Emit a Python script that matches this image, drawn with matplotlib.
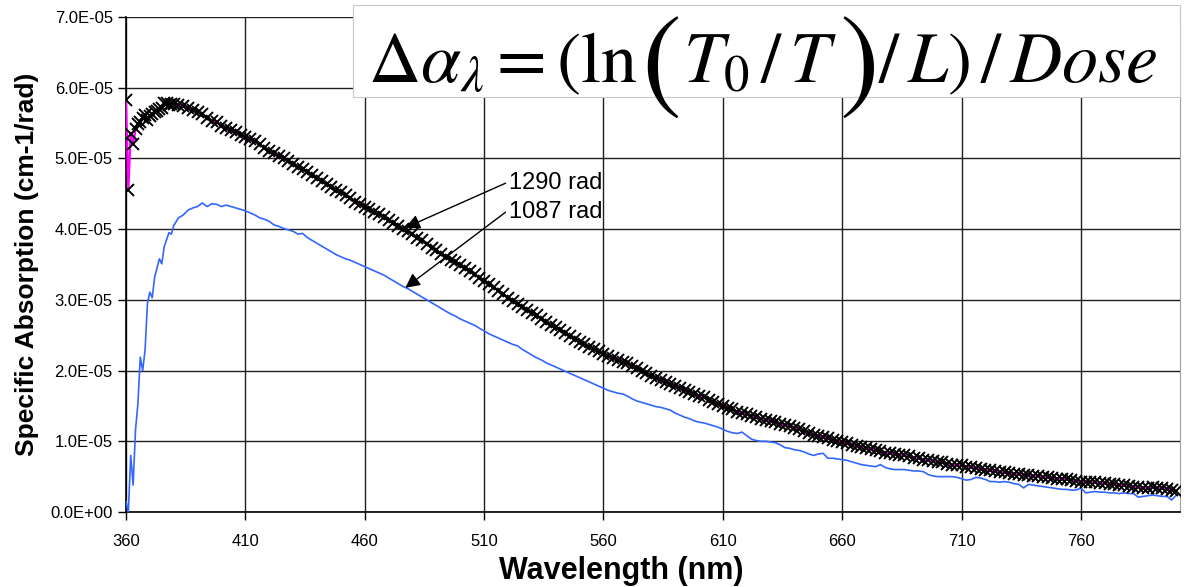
import matplotlib
matplotlib.use("Agg")
import matplotlib.pyplot as plt
import numpy as np
from matplotlib.patches import Rectangle
from matplotlib.ticker import FuncFormatter

# wavelength grid of the readings: 1 nm steps to 379 nm, then 2 nm steps
wavelength = np.concatenate([np.arange(360, 380, 1), np.arange(380, 802, 2)])

# specific absorption, units of 1e-5 cm-1/rad
abs_1290 = [
    5.82, 4.56, 5.35, 5.20, 5.41, 5.48, 5.51, 5.57, 5.62, 5.55,
    5.60, 5.63, 5.65, 5.67, 5.70, 5.72, 5.78, 5.79, 5.76, 5.77,
    5.77, 5.76, 5.74, 5.71, 5.68, 5.66, 5.63, 5.57, 5.53, 5.51,
    5.46, 5.43, 5.40, 5.37, 5.33, 5.30, 5.27, 5.25, 5.20, 5.15,
    5.11, 5.07, 5.03, 5.00, 4.97, 4.92, 4.88, 4.85, 4.81, 4.77,
    4.72, 4.68, 4.64, 4.60, 4.56, 4.52, 4.48, 4.44, 4.39, 4.35,
    4.31, 4.28, 4.24, 4.21, 4.17, 4.13, 4.09, 4.05, 4.00, 3.97,
    3.93, 3.88, 3.84, 3.79, 3.74, 3.70, 3.65, 3.61, 3.57, 3.53,
    3.49, 3.45, 3.41, 3.36, 3.31, 3.27, 3.22, 3.18, 3.13, 3.08,
    3.03, 2.98, 2.94, 2.90, 2.86, 2.82, 2.78, 2.73, 2.69, 2.64,
    2.61, 2.57, 2.53, 2.49, 2.45, 2.41, 2.37, 2.34, 2.30, 2.27,
    2.24, 2.21, 2.18, 2.15, 2.12, 2.10, 2.07, 2.03, 2.00, 1.97,
    1.93, 1.90, 1.87, 1.84, 1.81, 1.78, 1.76, 1.73, 1.70, 1.67,
    1.64, 1.62, 1.59, 1.56, 1.53, 1.50, 1.47, 1.45, 1.42, 1.40,
    1.38, 1.36, 1.34, 1.32, 1.30, 1.29, 1.27, 1.25, 1.23, 1.21,
    1.19, 1.17, 1.14, 1.11, 1.09, 1.07, 1.06, 1.04, 1.02, 1.00,
    0.99, 0.97, 0.95, 0.94, 0.92, 0.91, 0.89, 0.87, 0.86, 0.84,
    0.83, 0.82, 0.81, 0.80, 0.79, 0.77, 0.76, 0.74, 0.73, 0.72,
    0.71, 0.70, 0.68, 0.67, 0.66, 0.66, 0.64, 0.63, 0.62, 0.61,
    0.60, 0.59, 0.58, 0.57, 0.56, 0.55, 0.54, 0.54, 0.53, 0.52,
    0.51, 0.51, 0.50, 0.49, 0.48, 0.47, 0.47, 0.46, 0.45, 0.44,
    0.43, 0.42, 0.42, 0.42, 0.41, 0.41, 0.40, 0.39, 0.38, 0.38,
    0.37, 0.36, 0.35, 0.34, 0.34, 0.35, 0.34, 0.34, 0.33, 0.31,
    0.30,
]

abs_1087 = [
    0.15, 0.00, 0.80, 0.38, 1.16, 1.53, 2.19, 2.00, 2.29, 2.95,
    3.11, 3.03, 3.32, 3.45, 3.58, 3.51, 3.75, 3.85, 3.95, 3.93,
    4.05, 4.16, 4.20, 4.27, 4.30, 4.32, 4.37, 4.32, 4.36, 4.35,
    4.32, 4.34, 4.32, 4.30, 4.28, 4.26, 4.23, 4.20, 4.16, 4.14,
    4.11, 4.06, 4.04, 4.01, 3.99, 3.97, 3.93, 3.94, 3.88, 3.84,
    3.80, 3.76, 3.72, 3.68, 3.64, 3.61, 3.58, 3.56, 3.53, 3.50,
    3.47, 3.44, 3.41, 3.38, 3.35, 3.31, 3.27, 3.23, 3.19, 3.16,
    3.12, 3.08, 3.04, 3.00, 2.96, 2.92, 2.88, 2.84, 2.80, 2.77,
    2.73, 2.70, 2.67, 2.64, 2.60, 2.56, 2.52, 2.49, 2.46, 2.43,
    2.40, 2.37, 2.35, 2.30, 2.26, 2.22, 2.18, 2.15, 2.11, 2.08,
    2.05, 2.02, 1.99, 1.96, 1.93, 1.90, 1.87, 1.84, 1.81, 1.78,
    1.75, 1.72, 1.70, 1.68, 1.67, 1.64, 1.60, 1.57, 1.55, 1.53,
    1.51, 1.49, 1.48, 1.46, 1.44, 1.40, 1.37, 1.34, 1.32, 1.29,
    1.27, 1.26, 1.24, 1.22, 1.20, 1.17, 1.14, 1.12, 1.11, 1.13,
    1.08, 1.03, 1.01, 1.00, 1.00, 0.99, 0.98, 0.95, 0.91, 0.90,
    0.88, 0.87, 0.85, 0.82, 0.80, 0.82, 0.83, 0.76, 0.76, 0.75,
    0.74, 0.73, 0.71, 0.69, 0.67, 0.66, 0.65, 0.64, 0.67, 0.63,
    0.61, 0.60, 0.60, 0.60, 0.59, 0.58, 0.58, 0.57, 0.53, 0.51,
    0.50, 0.50, 0.50, 0.50, 0.49, 0.47, 0.45, 0.46, 0.49, 0.48,
    0.46, 0.43, 0.43, 0.42, 0.43, 0.42, 0.40, 0.39, 0.34, 0.39,
    0.38, 0.37, 0.36, 0.35, 0.34, 0.33, 0.32, 0.32, 0.31, 0.31,
    0.34, 0.27, 0.28, 0.29, 0.28, 0.28, 0.27, 0.27, 0.26, 0.27,
    0.26, 0.26, 0.21, 0.22, 0.23, 0.24, 0.23, 0.22, 0.22, 0.17,
    0.24,
]

x_ticks = [360, 410, 460, 510, 560, 610, 660, 710, 760]
y_ticks = [0, 1e-5, 2e-5, 3e-5, 4e-5, 5e-5, 6e-5, 7e-5]

# arrow labels: (text, text anchor, arrow head)
labels = [
    ("1290 rad", (520.5, 4.65e-5), (477, 4.02e-5)),
    ("1087 rad", (520.5, 4.24e-5), (477, 3.17e-5)),
]

# formula pieces: (mathtext, is_big_paren)
formula_parts = [
    (r"$\Delta\alpha_{\lambda} = (\ln$", False),
    (r"$($", True),
    (r"$T_0\,/\,T$", False),
    (r"$)$", True),
    (r"$/\,L)\,/\,Dose$", False),
]

plt.rcParams["font.family"] = ["Liberation Sans", "DejaVu Sans"]
plt.rcParams["mathtext.fontset"] = "stix"

W, H = 1185, 587
fig = plt.figure(figsize=(W / 100, H / 100), dpi=100)
ax = fig.add_axes([0.1063, 0.1278, 0.8895, 0.8432])

y1290 = np.array(abs_1290) * 1e-5
y1087 = np.array(abs_1087) * 1e-5

ax.plot(wavelength, y1087, color="#3366FF", linewidth=1.2, zorder=3)
ax.plot(wavelength, y1290, color="#FF00FF", linewidth=1.6, zorder=4,
        marker="x", markersize=8, markeredgewidth=1.4,
        markeredgecolor="black", markerfacecolor="black")

ax.set_xlim(360, 801.5)
ax.set_ylim(0, 7e-5)
ax.set_xticks(x_ticks)
ax.set_yticks(y_ticks)
ax.yaxis.set_major_formatter(FuncFormatter(lambda v, p: f"{v:.1E}"))
ax.tick_params(axis="both", labelsize=12, direction="out", length=6,
               width=1, color="black")
ax.tick_params(axis="x", pad=10)

ax.grid(True, color="#202020", linewidth=1.0)
ax.set_axisbelow(True)
for side in ["left", "bottom"]:
    ax.spines[side].set_color("black")
    ax.spines[side].set_linewidth(1.2)
ax.spines["right"].set_color("#a0a0a0")
ax.spines["top"].set_visible(False)

ax.set_ylabel("Specific Absorption (cm-1/rad)", fontsize=19,
              fontweight="bold", labelpad=8)
fig.text(0.524, 0.027, "Wavelength (nm)", fontsize=22, fontweight="bold",
         ha="center", va="center")

for text, pos, head in labels:
    ax.text(pos[0], pos[1], text, fontsize=17, ha="left", va="center",
            zorder=6)
    ax.annotate("", xy=head, xytext=(pos[0] - 1.5, pos[1]),
                arrowprops=dict(arrowstyle="-|>", color="black", lw=1.0,
                                mutation_scale=22, shrinkA=0, shrinkB=0),
                zorder=6)

# formula box over the top of the plot area
fig.patches.append(Rectangle((353 / W, 1 - 97 / H), 827 / W, 92 / H,
                             transform=fig.transFigure, facecolor="white",
                             edgecolor="#c8c8c8", linewidth=0.8, zorder=10))

renderer = fig.canvas.get_renderer()
base_size, big_size = 52, 86
texts = []
for part, big in formula_parts:
    t = fig.text(0, 0, part, fontsize=big_size if big else base_size,
                 ha="left", va="baseline", zorder=11)
    texts.append((t, big))
gap = 3
widths = [t.get_window_extent(renderer).width for t, _ in texts]
total = sum(widths) + gap * (len(widths) - 1)
scale = min(1.0, 792 / total)
for t, big in texts:
    t.set_fontsize(t.get_fontsize() * scale)
widths = [t.get_window_extent(renderer).width for t, _ in texts]
total = sum(widths) + gap * (len(widths) - 1)
x_cur = 763 - total / 2
baseline = H - 82
for (t, big), w in zip(texts, widths):
    y = baseline - (15 * scale if big else 0)
    t.set_position((x_cur / W, y / H))
    x_cur += w + gap

fig.savefig("out.png", dpi=100)
